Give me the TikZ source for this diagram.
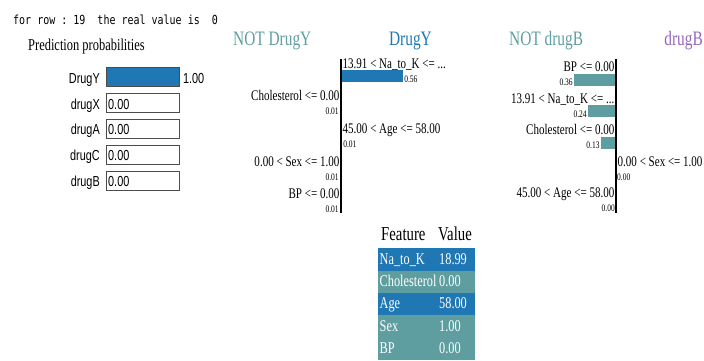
\documentclass[tikz,border=0pt]{standalone}
\usepackage{fontspec}
\setmainfont{Liberation Serif}[FakeStretch=0.75]
\setmonofont{DejaVu Sans Mono}[FakeStretch=0.8]
\newfontfamily\probfont{Liberation Sans}[FakeStretch=0.75]
\usetikzlibrary{
	positioning,calc
}
\definecolor{classblue}{HTML}{1F77B4}
\definecolor{classteal}{HTML}{5F9EA0}
\definecolor{classpurple}{HTML}{9467BD}
\newcommand{\fsz}[1]{\fontsize{#1}{#1}\selectfont}
\newcommand{\tdots}{...}
\tikzset{
	probbox/.style={
		rectangle, minimum width=73pt, minimum height=19pt, inner sep=0pt,
		draw=black!70, line width=0.9pt, anchor=west
	},
	%
	problabel/.style={
		font=\probfont\fsz{14.5}, inner sep=0pt
	},
	%
	featlabel/.style={
		font=\fsz{14.7}, inner sep=0pt
	},
	%
	smallval/.style={
		font=\fsz{10}, inner sep=0pt
	},
	%
	classtitle/.style={
		font=\fsz{20.5}, inner sep=0pt
	},
	%
	axisline/.style={
		line width=1.4pt, draw=black
	},
	%
	tablerow/.style={
		rectangle, minimum width=97pt, minimum height=22.4pt, inner sep=0pt, anchor=north west
	},
	%
	tabletext/.style={
		font=\fsz{16.4}, text=white, inner sep=0pt
	}
}

\begin{document}
\begin{tikzpicture}[x=1pt, y=-1pt]
    \useasboundingbox (0,0) rectangle (704,360);
    \node(rowinfo)[anchor=base west, inner sep=0pt, font=\ttfamily\fsz{12.5}] at (13,24) {for row : 19\ \ the real value is\ \ 0};
    \node(predtitle)[anchor=base west, inner sep=0pt, font=\fsz{16.6}] at (28,50) {Prediction probabilities};
    \node(pDrugY)[probbox, fill=classblue] at (106,77) {};
    \node(pdrugX)[probbox, below=6pt of pDrugY] {};
    \node(pdrugA)[probbox, below=6pt of pdrugX] {};
    \node(pdrugC)[probbox, below=6pt of pdrugA] {};
    \node(pdrugB)[probbox, below=6pt of pdrugC] {};
    \foreach \cls in {DrugY,drugX,drugA,drugC,drugB}
        \node(l\cls)[problabel, anchor=base east] at ($(p\cls.south west)+(-6,-3.8)$) {\cls};
    \node(vDrugY)[problabel, anchor=base west] at ($(pDrugY.south east)+(3,-3.8)$) {1.00};
    \foreach \cls in {drugX,drugA,drugC,drugB}
        \node(v\cls)[problabel, anchor=base west] at ($(p\cls.south west)+(2,-3.8)$) {0.00};
    \node(tmidneg)[classtitle, anchor=base west, text=classteal] at (233,45) {NOT DrugY};
    \node(tmidpos)[classtitle, anchor=base east, text=classblue] at (432,45) {DrugY};
    \node(trightneg)[classtitle, anchor=base west, text=classteal] at (509,45) {NOT drugB};
    \node(trightpos)[classtitle, anchor=base east, text=classpurple] at (703,45) {drugB};
    \coordinate(mtop) at (341,59);
    \coordinate(mbot) at (341,213);
    \coordinate(rtop) at (616,59);
    \coordinate(rbot) at (616,213);
    \foreach \lab/\val/\dir/\anc/\col [count=\k from 0] in {
        {13.91 < Na\_to\_K <= \tdots}/0.56/1/west/classblue,
        {Cholesterol <= 0.00}/0.01/-1/east/classteal,
        {45.00 < Age <= 58.00}/0.01/1/west/classblue,
        {0.00 < Sex <= 1.00}/0.01/-1/east/classteal,
        {BP <= 0.00}/0.01/-1/east/classteal} {
        \pgfmathsetmacro\yb{68+32.7*\k}
        \fill[\col] (341,\yb+2) rectangle (\dir*\val*111+341,\yb+14);
        \node(mlab\k)[featlabel, anchor=base \anc] at (\dir*1.5+341,\yb) {\lab};
        \node(mval\k)[smallval, anchor=base \anc] at (\dir*\val*111+\dir*1+341,\yb+14) {\val};
    }
    \foreach \lab/\val/\dir/\anc/\col [count=\k from 0] in {
        {BP <= 0.00}/0.36/-1/east/classteal,
        {13.91 < Na\_to\_K <= \tdots}/0.24/-1/east/classteal,
        {Cholesterol <= 0.00}/0.13/-1/east/classteal,
        {0.00 < Sex <= 1.00}/0.00/1/west/classpurple,
        {45.00 < Age <= 58.00}/0.00/-1/east/classteal} {
        \pgfmathsetmacro\yb{71.5+31.6*\k}
        \fill[\col] (616,\yb+2) rectangle (\dir*\val*117+616,\yb+14);
        \node(rlab\k)[featlabel, anchor=base \anc] at (\dir*1.5+616,\yb) {\lab};
        \node(rval\k)[smallval, anchor=base \anc] at (\dir*\val*117+\dir*1+616,\yb+14) {\val};
    }
    \draw[axisline] (mtop) -- (mbot);
    \draw[axisline] (rtop) -- (rbot);
    \node(thfeat)[tabletext, text=black, font=\fsz{19.7}, anchor=base west] at (381,240) {Feature};
    \node(thval)[tabletext, text=black, font=\fsz{19.7}, anchor=base west] at (438,240) {Value};
    \foreach \feat/\val/\col [count=\k from 0] in {
        Na\_to\_K/18.99/classblue, Cholesterol/0.00/classteal, Age/58.00/classblue,
        Sex/1.00/classteal, BP/0.00/classteal} {
        \node(row\k)[tablerow, fill=\col] at (378,248+22.4*\k) {};
        \node(tfeat\k)[tabletext, anchor=base west] at ($(row\k.south west)+(1.5,-6.7)$) {\feat};
        \node(tval\k)[tabletext, anchor=base west] at ($(row\k.south west)+(61,-6.7)$) {\val};
    }
\end{tikzpicture}
\end{document}
